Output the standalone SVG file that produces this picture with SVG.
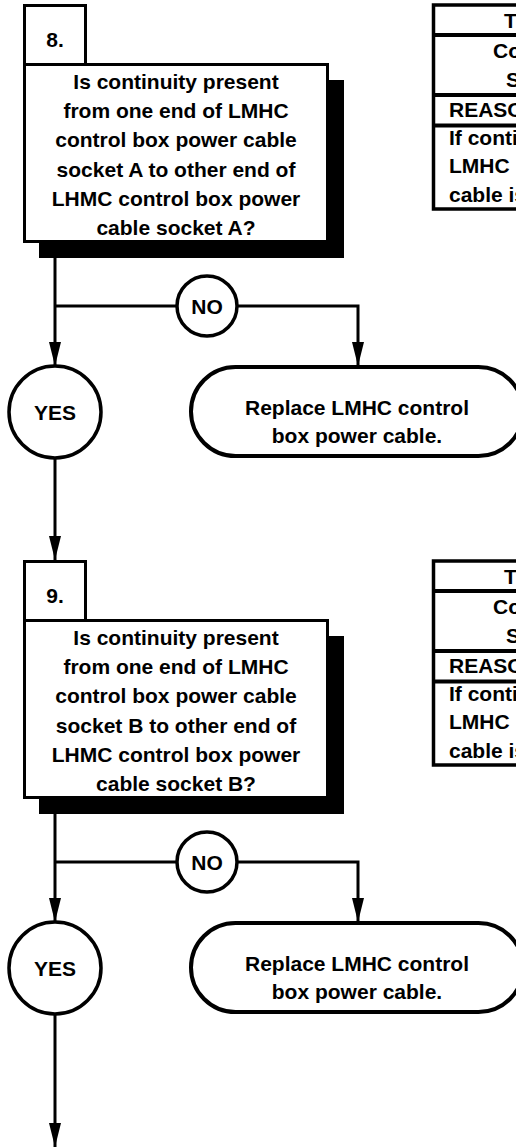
<svg xmlns="http://www.w3.org/2000/svg" width="516" height="1148" viewBox="0 0 516 1148">
<defs>
<marker id="arr" viewBox="0 0 24 12" refX="24" refY="6" markerWidth="24" markerHeight="12" markerUnits="userSpaceOnUse" orient="auto">
<path d="M0,0 L24,6 L0,12 Z" fill="#000"/>
</marker>
<style>
text{font-family:"Liberation Sans",Arial,sans-serif;font-weight:bold;font-size:21px;fill:#000}
.c{text-anchor:middle}
.box{fill:#fff;stroke:#000;stroke-width:3}
.sh{fill:#000}
.ln{fill:none;stroke:#000;stroke-width:3}
.circ{fill:#fff;stroke:#000;stroke-width:3.5}
.term{fill:#fff;stroke:#000;stroke-width:4}
.tb{fill:#fff;stroke:#000;stroke-width:3.5}
.tl{stroke:#000;stroke-width:4}
</style>
</defs>
<rect width="516" height="1148" fill="#fff"/>

<g id="connectors">
<line class="ln" x1="55" y1="258" x2="55" y2="366" marker-end="url(#arr)"/>
<polyline class="ln" points="55,306 177,306"/>
<polyline class="ln" points="237,306 358,306 358,366" marker-end="url(#arr)"/>
<line class="ln" x1="55" y1="458" x2="55" y2="560" marker-end="url(#arr)"/>
<line class="ln" x1="55" y1="814" x2="55" y2="922" marker-end="url(#arr)"/>
<polyline class="ln" points="55,862 177,862"/>
<polyline class="ln" points="237,862 358,862 358,922" marker-end="url(#arr)"/>
<line class="ln" x1="55" y1="1014" x2="55" y2="1147" marker-end="url(#arr)"/>
</g>

<g id="step8">
<rect class="box" x="24.5" y="5.5" width="61" height="59"/>
<text class="c" x="55" y="47">8.</text>
<rect class="sh" x="39" y="80" width="305" height="178"/>
<rect class="box" x="24.5" y="64.5" width="303" height="177"/>
<text class="c" x="176" y="89">Is continuity present</text>
<text class="c" x="176" y="118.2">from one end of LMHC</text>
<text class="c" x="176" y="147.4">control box power cable</text>
<text class="c" x="176" y="176.6">socket A to other end of</text>
<text class="c" x="176" y="205.8">LHMC control box power</text>
<text class="c" x="176" y="235">cable socket A?</text>
</g>

<g id="table8">
<rect class="tb" x="433.5" y="5" width="100" height="204"/>
<line class="tl" x1="433" y1="35" x2="516" y2="35"/>
<line class="tl" x1="433" y1="95" x2="516" y2="95"/>
<line class="tl" x1="433" y1="125.5" x2="516" y2="125.5"/>
<text x="504" y="28">T</text>
<text x="493" y="58">Co</text>
<text x="506" y="87">S</text>
<text x="449" y="117">REASO</text>
<text x="449" y="145">If conti</text>
<text x="449" y="173">LMHC</text>
<text x="449" y="202">cable is</text>
</g>

<g id="no8">
<circle class="circ" cx="207" cy="306" r="30"/>
<text class="c" x="207" y="313.5">NO</text>
</g>

<g id="yes8">
<circle class="circ" cx="55" cy="412" r="46"/>
<text class="c" x="55" y="420">YES</text>
</g>

<g id="replace8">
<rect class="term" x="191" y="367" width="332" height="89" rx="44.5"/>
<text class="c" x="357" y="415">Replace LMHC control</text>
<text class="c" x="357" y="443">box power cable.</text>
</g>

<g id="step9">
<rect class="box" x="24.5" y="561.5" width="61" height="59"/>
<text class="c" x="55" y="603">9.</text>
<rect class="sh" x="39" y="636" width="305" height="178"/>
<rect class="box" x="24.5" y="620.5" width="303" height="177"/>
<text class="c" x="176" y="645">Is continuity present</text>
<text class="c" x="176" y="674.2">from one end of LMHC</text>
<text class="c" x="176" y="703.4">control box power cable</text>
<text class="c" x="176" y="732.6">socket B to other end of</text>
<text class="c" x="176" y="761.8">LHMC control box power</text>
<text class="c" x="176" y="791">cable socket B?</text>
</g>

<g id="table9">
<rect class="tb" x="433.5" y="561" width="100" height="204"/>
<line class="tl" x1="433" y1="591" x2="516" y2="591"/>
<line class="tl" x1="433" y1="651" x2="516" y2="651"/>
<line class="tl" x1="433" y1="681.5" x2="516" y2="681.5"/>
<text x="504" y="584">T</text>
<text x="493" y="614">Co</text>
<text x="506" y="643">S</text>
<text x="449" y="673">REASO</text>
<text x="449" y="701">If conti</text>
<text x="449" y="729">LMHC</text>
<text x="449" y="758">cable is</text>
</g>

<g id="no9">
<circle class="circ" cx="207" cy="862" r="30"/>
<text class="c" x="207" y="869.5">NO</text>
</g>

<g id="yes9">
<circle class="circ" cx="55" cy="968" r="46"/>
<text class="c" x="55" y="976">YES</text>
</g>

<g id="replace9">
<rect class="term" x="191" y="923" width="332" height="89" rx="44.5"/>
<text class="c" x="357" y="971">Replace LMHC control</text>
<text class="c" x="357" y="999">box power cable.</text>
</g>
</svg>
